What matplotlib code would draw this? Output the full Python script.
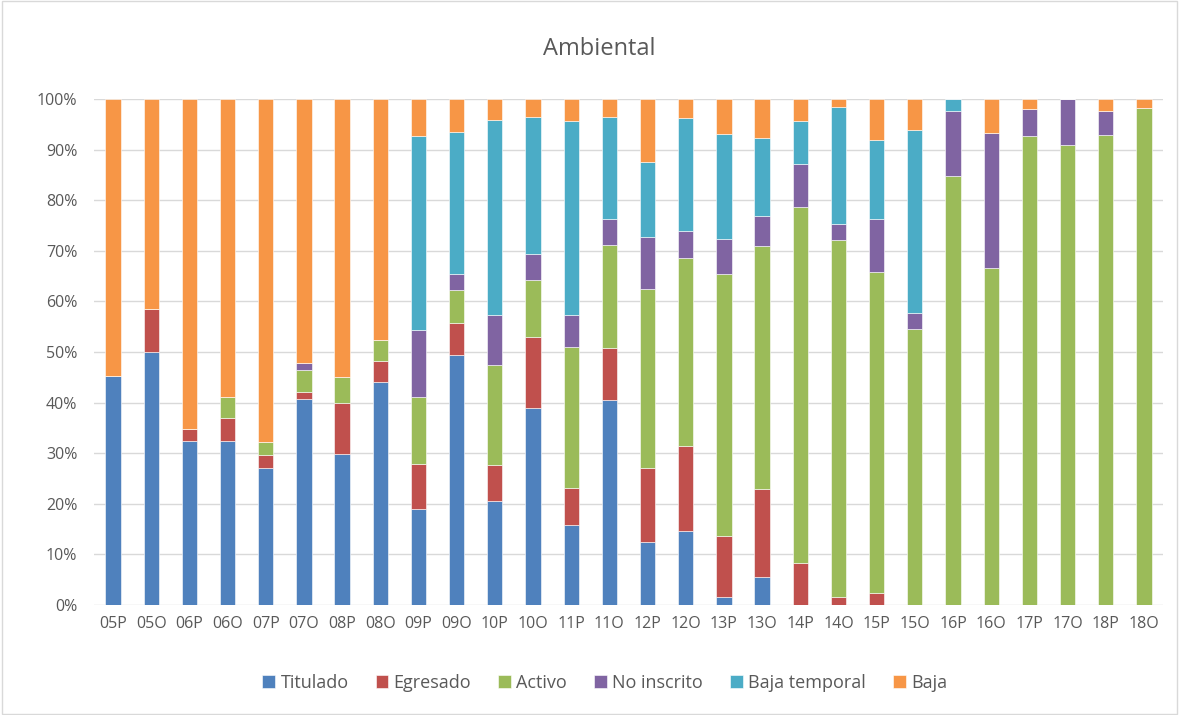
import numpy as np
import matplotlib.pyplot as plt
from matplotlib.patches import Rectangle
from matplotlib.ticker import PercentFormatter

# periods (P / O) per year
categories = ['05P', '05O', '06P', '06O', '07P', '07O', '08P', '08O',
              '09P', '09O', '10P', '10O', '11P', '11O', '12P', '12O',
              '13P', '13O', '14P', '14O', '15P', '15O', '16P', '16O',
              '17P', '17O', '18P', '18O']

titulado = [45.3, 50.0, 32.5, 32.5, 27.0, 40.8, 29.9, 44.1,
            19.0, 49.4, 20.6, 39.0, 15.8, 40.5, 12.4, 14.6,
            1.6, 5.6, 0, 0, 0, 0, 0, 0,
            0, 0, 0, 0]
egresado = [0, 8.5, 2.3, 4.4, 2.6, 1.3, 10.0, 4.2,
            8.9, 6.4, 7.0, 14.0, 7.4, 10.3, 14.6, 16.8,
            12.0, 17.3, 8.3, 1.5, 2.4, 0, 0, 0,
            0, 0, 0, 0]
activo = [0, 0, 0, 4.3, 2.7, 4.3, 5.1, 4.1,
          13.2, 6.5, 19.8, 11.3, 27.8, 20.3, 35.4, 37.1,
          51.9, 48.1, 70.4, 70.6, 63.4, 54.6, 84.8, 66.6,
          92.7, 90.9, 92.9, 98.3]
no_inscrito = [0, 0, 0, 0, 0, 1.4, 0, 0,
               13.2, 3.2, 9.9, 5.1, 6.3, 5.1, 10.4, 5.5,
               6.9, 5.9, 8.5, 3.3, 10.4, 3.1, 12.9, 26.7,
               5.4, 9.1, 4.7, 0]
baja_temporal = [0, 0, 0, 0, 0, 0, 0, 0,
                 38.3, 28.0, 38.6, 27.1, 38.4, 20.3, 14.7, 22.3,
                 20.6, 15.3, 8.5, 23.0, 15.8, 36.1, 2.3, 0,
                 0, 0, 0, 0]
baja = [54.7, 41.5, 65.2, 58.8, 67.7, 52.2, 55.0, 47.6,
        7.4, 6.5, 4.1, 3.5, 4.3, 3.5, 12.5, 3.7,
        7.0, 7.8, 4.3, 1.6, 8.0, 6.2, 0, 6.7,
        1.9, 0, 2.4, 1.7]

series = [('Titulado', titulado, '#4F81BD'),
          ('Egresado', egresado, '#C0504D'),
          ('Activo', activo, '#9BBB59'),
          ('No inscrito', no_inscrito, '#8064A2'),
          ('Baja temporal', baja_temporal, '#4BACC6'),
          ('Baja', baja, '#F79646')]

plt.rcParams['font.family'] = ['Open Sans', 'DejaVu Sans']
txt = '#595959'

fig = plt.figure(figsize=(11.79, 7.15), dpi=100)
fig.patches.append(Rectangle((0.002, 0.002), 0.996, 0.996, transform=fig.transFigure,
                             fill=False, edgecolor='#D9D9D9', linewidth=1))
ax = fig.add_axes([0.0797, 0.1538, 0.9067, 0.7077])

x = np.arange(len(categories))
data = np.array([s[1] for s in series], dtype=float)
data = data / data.sum(axis=0) * 100
bottom = np.zeros(len(categories))
for (name, _, color), vals in zip(series, data):
    ax.bar(x, vals, 0.4, bottom=bottom, color=color, label=name,
           edgecolor='white', linewidth=0.4, zorder=3)
    bottom += vals

ax.set_xlim(-0.5, len(categories) - 0.5)
ax.set_ylim(0, 100)
ax.set_yticks(np.arange(0, 101, 10))
ax.yaxis.set_major_formatter(PercentFormatter(decimals=0))
ax.set_xticks(x)
ax.set_xticklabels(categories)
ax.grid(axis='y', color='#D9D9D9', linewidth=1, zorder=0)
for s in ax.spines.values():
    s.set_visible(False)
ax.tick_params(length=0, labelsize=11.5, colors=txt, pad=8)
ax.tick_params(axis='y', pad=12)

fig.text(0.508, 0.932, 'Ambiental', ha='center', va='center', fontsize=17, color=txt)

leg = ax.legend(loc='center', bbox_to_anchor=(0.513, 0.045), bbox_transform=fig.transFigure,
                ncol=6, frameon=False, fontsize=13, handlelength=0.7, handleheight=0.7,
                handletextpad=0.3, columnspacing=1.5)
for t in leg.get_texts():
    t.set_color(txt)

fig.savefig('out.png', dpi=100)
